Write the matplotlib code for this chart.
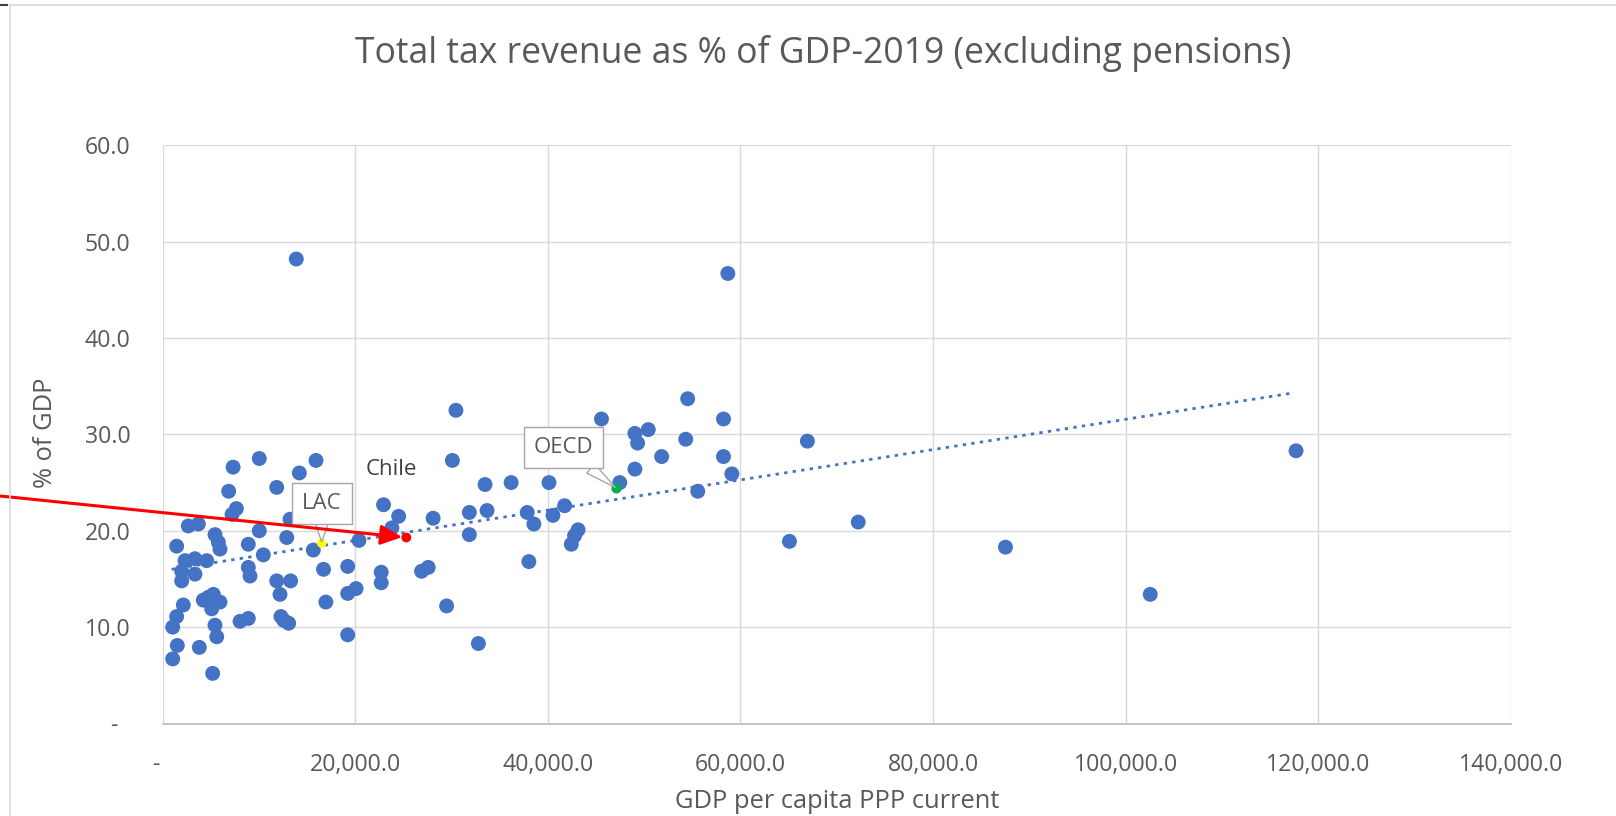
import matplotlib
matplotlib.use("Agg")
import matplotlib.pyplot as plt
from matplotlib.lines import Line2D

plt.rcParams['font.family'] = ['Open Sans', 'DejaVu Sans']

# ---------------- data ----------------
gdp_pc = [1060, 1060, 1470, 1540, 1470, 1990, 1990, 2160, 2340, 3370,
          4590, 3370, 2680, 3720, 3820, 4240, 5280, 5110, 5970, 4760,
          5450, 5630, 5210, 5450, 5800, 5970, 7330, 6870, 7670, 7220,
          8050, 8910, 8910, 8910, 9090,
          10050, 10050, 10470, 11860, 11860, 12200, 12300, 12600, 13100, 13240,
          13300, 12900, 13890, 14210, 15940, 15660, 16720, 16960, 19230, 19230,
          20100, 19230, 20400, 22950, 24520, 23820, 22710, 22710, 26900, 27590,
          28100, 30100, 29500, 30470, 31860, 31860, 32800, 33490, 33700, 36200,
          37870, 38560, 38040, 40130, 40540, 41750, 43150, 42790, 42450, 45580,
          47480, 49050, 50440, 49330, 49050, 51830, 54530, 54330, 55580, 58700,
          58250, 58250, 59120, 66960, 72240, 65100, 87530, 102560, 117700]
tax_gdp = [6.7, 10.0, 11.1, 8.1, 18.4, 15.8, 14.8, 12.3, 16.9, 17.1,
           16.9, 15.5, 20.5, 20.7, 7.9, 12.8, 13.4, 11.9, 12.6, 13.1,
           10.2, 9.0, 5.2, 19.6, 18.8, 18.1, 26.6, 24.1, 22.3, 21.7,
           10.6, 10.9, 18.6, 16.2, 15.3,
           27.5, 20.0, 17.5, 24.5, 14.8, 13.4, 11.1, 10.7, 10.4, 21.2,
           14.8, 19.3, 48.2, 26.0, 27.3, 18.0, 16.0, 12.6, 16.3, 13.5,
           14.0, 9.2, 19.0, 22.7, 21.5, 20.3, 15.7, 14.6, 15.8, 16.2,
           21.3, 27.3, 12.2, 32.5, 21.9, 19.6, 8.3, 24.8, 22.1, 25.0,
           21.9, 20.7, 16.8, 25.0, 21.6, 22.6, 20.1, 19.5, 18.6, 31.6,
           25.0, 30.1, 30.5, 29.1, 26.4, 27.7, 33.7, 29.5, 24.1, 46.7,
           31.6, 27.7, 25.9, 29.3, 20.9, 18.9, 18.3, 13.4, 28.3]

highlight_names = ['LAC', 'Chile', 'OECD']
highlight_x = [16530, 25317, 47140]
highlight_y = [18.7, 19.3, 24.4]

trend_x = [950, 117400]
trend_y = [16.0, 34.3]

x_ticks = [0, 20000, 40000, 60000, 80000, 100000, 120000, 140000]
x_ticklabels = ['-  ', '20,000.0', '40,000.0', '60,000.0', '80,000.0',
                '100,000.0', '120,000.0', '140,000.0']
y_ticks = [0, 10, 20, 30, 40, 50, 60]
y_ticklabels = ['-  ', '10.0', '20.0', '30.0', '40.0', '50.0', '60.0']

title = 'Total tax revenue as % of GDP-2019 (excluding pensions)'
x_label = 'GDP per capita PPP current'
y_label = '% of GDP'

# ---------------- figure ----------------
W, H = 1616, 816
fig = plt.figure(figsize=(W / 100, H / 100), dpi=100)
fig.patch.set_facecolor('white')


def fx(px):
    return px / W


def fy(py):
    return 1 - py / H


ax = fig.add_axes([fx(162.5), fy(723.5), fx(1510.8 - 162.5), (723.5 - 145.3) / H])

blue = '#4472C4'
txt = '#595959'

ax.scatter(gdp_pc, tax_gdp, s=115, color=blue, edgecolors='none', zorder=3)
ax.plot(trend_x, trend_y, color=blue, lw=2.0, linestyle=(0, (1.2, 1.9)),
        zorder=4, dash_capstyle='butt')

hl_colors = ['#FFFF00', '#FF0000', '#00B050']
hl_sizes = [45, 50, 55]
for hx, hy, c, s in zip(highlight_x, highlight_y, hl_colors, hl_sizes):
    ax.scatter([hx], [hy], s=s, color=c, edgecolors='none', zorder=5)

ax.set_xlim(0, 140000)
ax.set_ylim(0, 60)
ax.set_xticks(x_ticks)
ax.set_xticklabels(x_ticklabels)
ax.set_yticks(y_ticks)
ax.set_yticklabels(y_ticklabels)
ax.tick_params(axis='both', length=0, labelsize=16.7, labelcolor=txt)
ax.tick_params(axis='y', pad=23)
ax.tick_params(axis='x', pad=21.5)
ax.grid(True, color='#D9D9D9', lw=1.0, zorder=0)
ax.set_axisbelow(True)
for sp in ['top', 'right', 'left']:
    ax.spines[sp].set_visible(False)
ax.spines['bottom'].set_color('#BFBFBF')
ax.spines['bottom'].set_linewidth(1.3)

# callouts
box = dict(boxstyle='square,pad=0.45', fc='white', ec='#A6A6A6', lw=1.0)
wedge = dict(arrowstyle='wedge,tail_width=0.55,shrink_factor=0.5',
             fc='white', ec='#A6A6A6', lw=1.0, shrinkA=0, shrinkB=1)
ax.annotate(highlight_names[0], xy=(highlight_x[0], highlight_y[0]),
            xytext=(0, 40), textcoords='offset pixels', ha='center', va='center',
            fontsize=16, color=txt, bbox=box, arrowprops=wedge, zorder=6)
ax.annotate(highlight_names[2], xy=(highlight_x[2], highlight_y[2]),
            xytext=(-53, 41), textcoords='offset pixels', ha='center', va='center',
            fontsize=16, color=txt, bbox=box, arrowprops=wedge, zorder=6)
ax.annotate(highlight_names[1], xy=(highlight_x[1], highlight_y[1]),
            xytext=(-15, 63), textcoords='offset pixels', ha='center', va='baseline',
            fontsize=16, color='#404040', zorder=6)

# red arrow from the left edge to Chile
ax.annotate('', xy=(highlight_x[1], highlight_y[1]), xycoords='data',
            xytext=(0, fy(496)), textcoords='figure fraction',
            arrowprops=dict(arrowstyle='-|>,head_length=0.65,head_width=0.3',
                            color='#FF0000', lw=2.2, mutation_scale=20,
                            shrinkA=0, shrinkB=3),
            annotation_clip=False, zorder=7)

# titles
fig.text(fx(823), fy(63.3), title, ha='center', va='baseline', fontsize=25.6, color=txt)
fig.text(fx(837), fy(801), x_label, ha='center', va='center', fontsize=18.4, color=txt)
fig.text(fx(46), fy(433), y_label, ha='center', va='center', fontsize=18.4, color=txt,
         rotation=90)

# chart border
fig.add_artist(Line2D([fx(10), fx(10)], [0, fy(5)], color='#D9D9D9', lw=1.2,
                      transform=fig.transFigure))
fig.add_artist(Line2D([fx(10), 1], [fy(5), fy(5)], color='#D9D9D9', lw=1.2,
                      transform=fig.transFigure))
fig.add_artist(Line2D([0, fx(7)], [fy(5), fy(5)], color='#404040', lw=1.5,
                      transform=fig.transFigure))

fig.savefig('out.png', dpi=100, facecolor='white')
